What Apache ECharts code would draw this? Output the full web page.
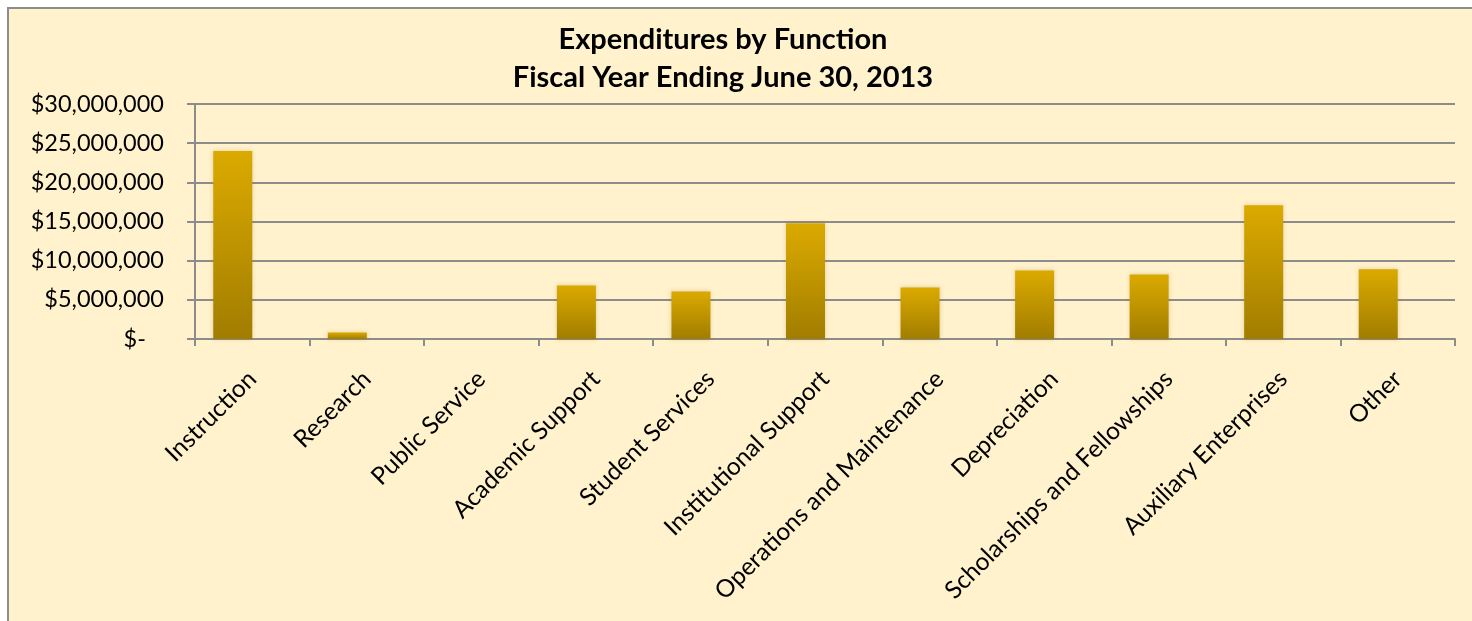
<!DOCTYPE html>
<html>
<head>
<meta charset="utf-8">
<script src="https://cdn.jsdelivr.net/npm/echarts@6/dist/echarts.min.js"></script>
<style>
  html, body { margin: 0; padding: 0; background: #fff; }
  .frame {
    position: absolute; left: 7px; top: 7px; width: 1500px; height: 700px;
    background: #FFF2CC; border: 2px solid #8C8C8C;
  }
  .chart { position: absolute; left: 0; top: 0; width: 1472px; height: 621px; }
</style>
</head>
<body>
<div class="frame"></div>
<div class="chart"></div>
<script>
/* 类别与数据 */
var categories = ['Instruction', 'Research', 'Public Service', 'Academic Support', 'Student Services',
  'Institutional Support', 'Operations and Maintenance', 'Depreciation',
  'Scholarships and Fellowships', 'Auxiliary Enterprises', 'Other'];
var expenditures = [24000000, 830000, 0, 6840000, 6070000, 14770000, 6590000, 8760000, 8250000, 17070000, 8890000];
// 原图里第二个系列是空的, 只占位置 (柱子偏左)
var emptySeries = [null, null, null, null, null, null, null, null, null, null, null];
var titleLines = ['Expenditures by Function', 'Fiscal Year Ending June 30, 2013'];

(function (){
  var myEchart = echarts.init(document.querySelector('.chart'))
  var font = 'Lato'
  var option = {
    backgroundColor: 'transparent',
    animation: false,
    title: {
      text: titleLines.join('\n'),
      left: 718,
      top: 16,
      textAlign: 'center',
      textStyle: {
        fontFamily: font,
        fontWeight: 'bold',
        fontSize: 29,
        lineHeight: 38,
        color: '#000'
      }
    },
    grid: {
      left: 195,
      right: 17,
      top: 104,
      bottom: 282
    },
    xAxis: {
      type: 'category',
      data: categories,
      axisLine: { lineStyle: { color: '#8C8C8C', width: 2 } },
      axisTick: { show: true, length: 7, lineStyle: { color: '#8C8C8C', width: 2 } },
      axisLabel: {
        rotate: 45,
        interval: 0,
        margin: 36,
        fontFamily: font,
        fontSize: 24.5,
        color: '#000'
      }
    },
    yAxis: {
      type: 'value',
      min: 0,
      max: 30000000,
      interval: 5000000,
      axisLine: { show: true, lineStyle: { color: '#8C8C8C', width: 2 } },
      axisTick: { show: true, length: 8, lineStyle: { color: '#8C8C8C', width: 2 } },
      splitLine: { lineStyle: { color: '#8C8C8C', width: 2 } },
      axisLabel: {
        margin: 31,
        fontFamily: font,
        fontSize: 23.5,
        color: '#000',
        formatter: function (v) {
          if (v === 0) return '$-   '
          return '$' + v.toLocaleString('en-US')
        }
      }
    },
    series: [
      {
        name: 'Expenditures',
        type: 'bar',
        data: expenditures,
        barWidth: 39,
        barGap: 0,
        itemStyle: {
          color: new echarts.graphic.LinearGradient(0, 0, 0, 1, [
            { offset: 0, color: '#DBAA00' },
            { offset: 1, color: '#A17D00' }
          ]),
          shadowColor: 'rgba(120,90,0,0.25)',
          shadowBlur: 4
        }
      },
      {
        name: 'Empty',
        type: 'bar',
        data: emptySeries,
        barWidth: 39,
        barGap: 0
      }
    ]
  };
  myEchart.setOption(option)
  window.addEventListener('resize', function (){
    myEchart.resize()
  })
})();
</script>
</body>
</html>
